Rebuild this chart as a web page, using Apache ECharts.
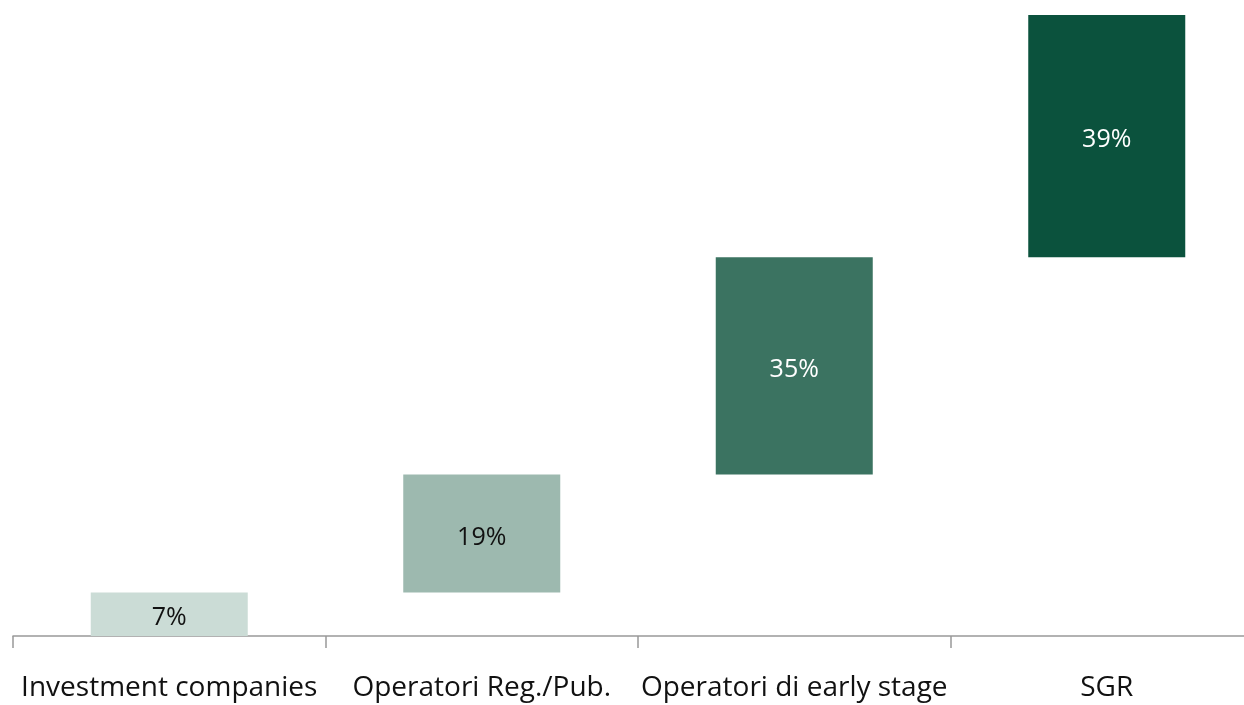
<!DOCTYPE html>
<html>
<head>
<meta charset="utf-8">
<script src="https://cdn.jsdelivr.net/npm/echarts@6/dist/echarts.min.js"></script>
<style>
  html, body { margin: 0; padding: 0; background: #fff; }
  #chart { width: 1244px; height: 705px; }
</style>
</head>
<body>
<div id="chart"></div>
<script>
// categorie e quote (%)
const categories = ['Investment companies', 'Operatori Reg./Pub.', 'Operatori di early stage', 'SGR']
const shares = [7, 19, 35, 39]
const barColors = ['#cbdcd6', '#9db9af', '#3b7361', '#0b523d']
const labelColors = ['#111', '#111', '#fff', '#fff']

// base invisibile per l'effetto a cascata
let run = 0
const base = shares.map(v => { const b = run; run += v; return b })

const chart = echarts.init(document.getElementById('chart'))
chart.setOption({
  animation: false,
  grid: { left: 13, right: -19, top: 15, bottom: 69, containLabel: false, outerBoundsMode: 'none' },
  xAxis: {
    type: 'category',
    data: categories,
    axisLine: { lineStyle: { color: '#999', width: 1.5 } },
    axisTick: { show: true, interval: 0, length: 12, lineStyle: { color: '#999', width: 1.5 } },
    axisLabel: { interval: 0, color: '#111', fontSize: 28, fontFamily: 'Open Sans', margin: 38, hideOverlap: false }
  },
  yAxis: { type: 'value', min: 0, max: 100, show: false, splitLine: { show: false } },
  series: [
    {
      type: 'bar', stack: 'w', barWidth: 157,
      itemStyle: { color: 'transparent' },
      data: base, silent: true
    },
    {
      type: 'bar', stack: 'w', barWidth: 157,
      data: shares.map((v, i) => ({
        value: v,
        itemStyle: { color: barColors[i] },
        label: { color: labelColors[i] }
      })),
      label: {
        show: true, position: 'inside', fontSize: 25, fontFamily: 'Open Sans',
        offset: [0, 4],
        formatter: p => p.value + '%'
      }
    }
  ]
})
</script>
</body>
</html>
